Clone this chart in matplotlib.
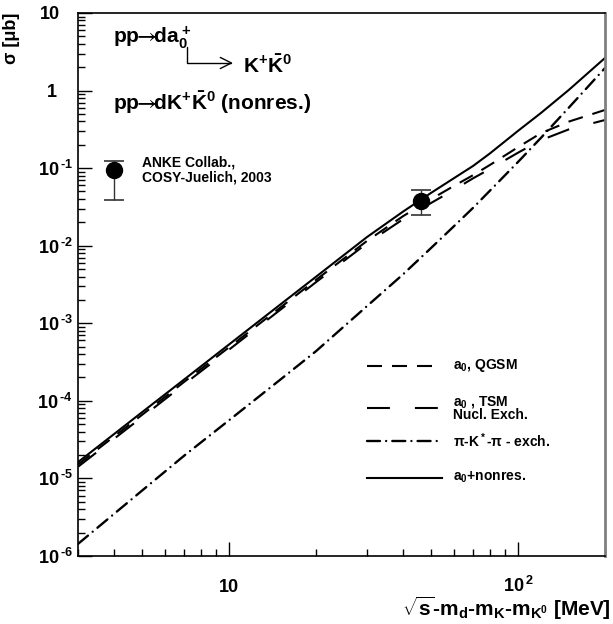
import numpy as np
import matplotlib
matplotlib.use("Agg")
import matplotlib.pyplot as plt
from matplotlib.ticker import FixedLocator, FuncFormatter, NullFormatter
from matplotlib.transforms import blended_transform_factory

plt.rcParams['font.family'] = ['Liberation Sans', 'DejaVu Sans']
plt.rcParams['font.weight'] = 'bold'
plt.rcParams['axes.labelweight'] = 'bold'
plt.rcParams['mathtext.fontset'] = 'custom'
plt.rcParams['mathtext.rm'] = 'Liberation Sans:bold'
plt.rcParams['mathtext.bf'] = 'Liberation Sans:bold'
plt.rcParams['mathtext.it'] = 'Liberation Sans:bold'
plt.rcParams['mathtext.sf'] = 'STIXGeneral'
plt.rcParams['mathtext.default'] = 'rm'

# excess energy Q [MeV]
q = [3, 4, 5, 7, 10, 15, 20, 30, 40, 50, 60, 70, 80, 100, 120, 150, 200]

# cross sections [mub]
a0_qgsm = [1.51e-5, 3.47e-5, 6.6e-5, 1.76e-4, 4.9e-4, 1.58e-3, 3.63e-3, 1.15e-2,
           2.40e-2, 3.98e-2, 5.89e-2, 8.13e-2, 0.110, 0.186, 0.282, 0.398, 0.562]
a0_tsm = [1.41e-5, 3.24e-5, 6.17e-5, 1.64e-4, 4.57e-4, 1.48e-3, 3.39e-3, 1.07e-2,
          2.19e-2, 3.55e-2, 5.25e-2, 7.41e-2, 9.77e-2, 0.158, 0.229, 0.316, 0.417]
pikpi = [1.43e-6, 3.49e-6, 6.97e-6, 1.97e-5, 5.62e-5, 1.86e-4, 4.37e-4, 1.66e-3,
         4.27e-3, 9.33e-3, 1.78e-2, 3.09e-2, 5.13e-2, 0.120, 0.245, 0.603, 1.95]
a0_nonres = [1.62e-5, 3.73e-5, 7.14e-5, 1.89e-4, 5.33e-4, 1.73e-3, 3.98e-3, 1.29e-2,
             2.75e-2, 4.79e-2, 7.41e-2, 0.107, 0.155, 0.302, 0.513, 1.02, 2.63]

# ANKE point
anke_q = [46]
anke_sig = [0.038]
anke_err = [[0.013], [0.014]]

labels = ["a$_0$, QGSM", "a$_0$ , TSM\nNucl. Exch.", "$\\pi$-K$^*$-$\\pi$ - exch.", "a$_0$+nonres."]
styles = [(0, (7.2, 4.8)), (0, (11, 12)), (0, (5.5, 2.6, 0.01, 2.6)), '-']
caps = ['butt', 'butt', 'round', 'butt']
widths = [1.5, 1.5, 1.7, 1.5]

fig = plt.figure(figsize=(6.13, 6.24), dpi=100)
ax = fig.add_axes([0.1272, 0.109, 0.8597, 0.8702])

series = [a0_qgsm, a0_tsm, pikpi, a0_nonres]
for s, ls, cs, lw in zip(series, styles, caps, widths):
    ax.plot(q, s, color='black', lw=lw, ls=ls, dash_capstyle=cs)

ax.errorbar(anke_q, anke_sig, yerr=anke_err, fmt='o', color='black', ms=11.5,
            ecolor='#333333', elinewidth=1, capsize=7, capthick=1.2)

ax.set_xscale('log')
ax.set_yscale('log')
ax.set_xlim(3, 200)
ax.set_ylim(1e-6, 10)

def fmt(v, pos):
    e = int(round(np.log10(v)))
    if e == 1:
        return "10"
    return "10$^{\\,\\text{%d}}$" % e

def fmty(v, pos):
    e = int(round(np.log10(v)))
    if e >= 0:
        return ""  # drawn separately further left, ROOT style
    return fmt(v, pos)

ax.yaxis.set_major_locator(FixedLocator([10.0 ** k for k in range(-6, 2)]))
ax.yaxis.set_minor_locator(FixedLocator([m * 10.0 ** k for k in range(-6, 1) for m in range(2, 10)]))
ax.yaxis.set_major_formatter(FuncFormatter(fmty))
ax.yaxis.set_minor_formatter(NullFormatter())
ax.xaxis.set_major_locator(FixedLocator([10, 100]))
ax.xaxis.set_minor_locator(FixedLocator([3, 4, 5, 6, 7, 8, 9, 20, 30, 40, 50, 60, 70, 80, 90, 200]))
ax.xaxis.set_major_formatter(FuncFormatter(fmt))
ax.xaxis.set_minor_formatter(NullFormatter())

ax.tick_params(which='both', direction='in', top=False, right=False, width=1, labelsize=13)
ax.tick_params(which='major', length=10)
ax.tick_params(which='minor', length=5)
ax.tick_params(axis='y', pad=4)
ax.tick_params(axis='x', pad=26)
for t in ax.xaxis.get_major_ticks():
    t.label1.set_va('baseline')

ytr = blended_transform_factory(ax.transAxes, ax.transData)
for val, txt, xo in [(1, "1", -0.040), (10, "10", -0.034)]:
    ax.text(xo, val, txt, transform=ytr, fontsize=13, ha='right', va='center_baseline')

for sp in ax.spines.values():
    sp.set_linewidth(1.2)
ax.spines['right'].set_color('#808080')
ax.spines['right'].set_linewidth(2)

ax.set_ylabel("σ [μb]", fontsize=13, loc='top')
ax.yaxis.set_label_coords(-0.11, 1.0)
ax.set_xlabel("$\\sqrt{\\rm s}$-m$_{\\rm d}$-m$_{\\rm K}$-m$_{{\\rm K}^0}$ [MeV]", fontsize=15,
              loc='right')
ax.xaxis.set_label_coords(1.0114, -0.11)
ax.xaxis.label.set_va('baseline')

# process labels
arrow = "$\\!\\!\\mathsf{\\rightarrow}\\!\\!$"
ax.text(0.0664, 0.9448, "pp" + arrow + "da$_0^+$", transform=ax.transAxes, fontsize=15,
        va='baseline')
ax.text(0.313, 0.8895, "K$^{\\text{+}}\\bar{\\rm K}^0$", transform=ax.transAxes, fontsize=15,
        va='baseline')
ax.text(0.0664, 0.8214, "pp" + arrow + "dK$^{\\text{+}}\\bar{\\rm K}^0$ (nonres.)",
        transform=ax.transAxes, fontsize=15, va='baseline')
ax.annotate('', xy=(0.2941, 0.9079), xytext=(0.2068, 0.9374), xycoords='axes fraction',
            arrowprops=dict(arrowstyle='->,head_length=0.8,head_width=0.4', lw=1, color='black',
                            connectionstyle='angle,angleA=90,angleB=0,rad=0', shrinkA=0, shrinkB=0))

# data legend
ax.errorbar([0.068], [0.711], yerr=[[0.056], [0.017]], fmt='o', color='black', ms=11.5,
            ecolor='#333333', elinewidth=1, capsize=7, capthick=1.2, transform=ax.transAxes)
ax.text(0.121, 0.711, "ANKE Collab.,\nCOSY-Juelich, 2003", transform=ax.transAxes, fontsize=10,
        va='center', linespacing=1.1)

# curve legend
key_y = [0.350, 0.272, 0.212, 0.144]
for ky, ls, cs, lw, lab in zip(key_y, styles, caps, widths, labels):
    ax.plot([0.548, 0.691], [ky, ky], transform=ax.transAxes, color='black', lw=lw, ls=ls,
            dash_capstyle=cs)
    ax.text(0.7116, ky, lab, transform=ax.transAxes, fontsize=10, va='center', linespacing=0.85)

fig.savefig("out.png", dpi=100)
